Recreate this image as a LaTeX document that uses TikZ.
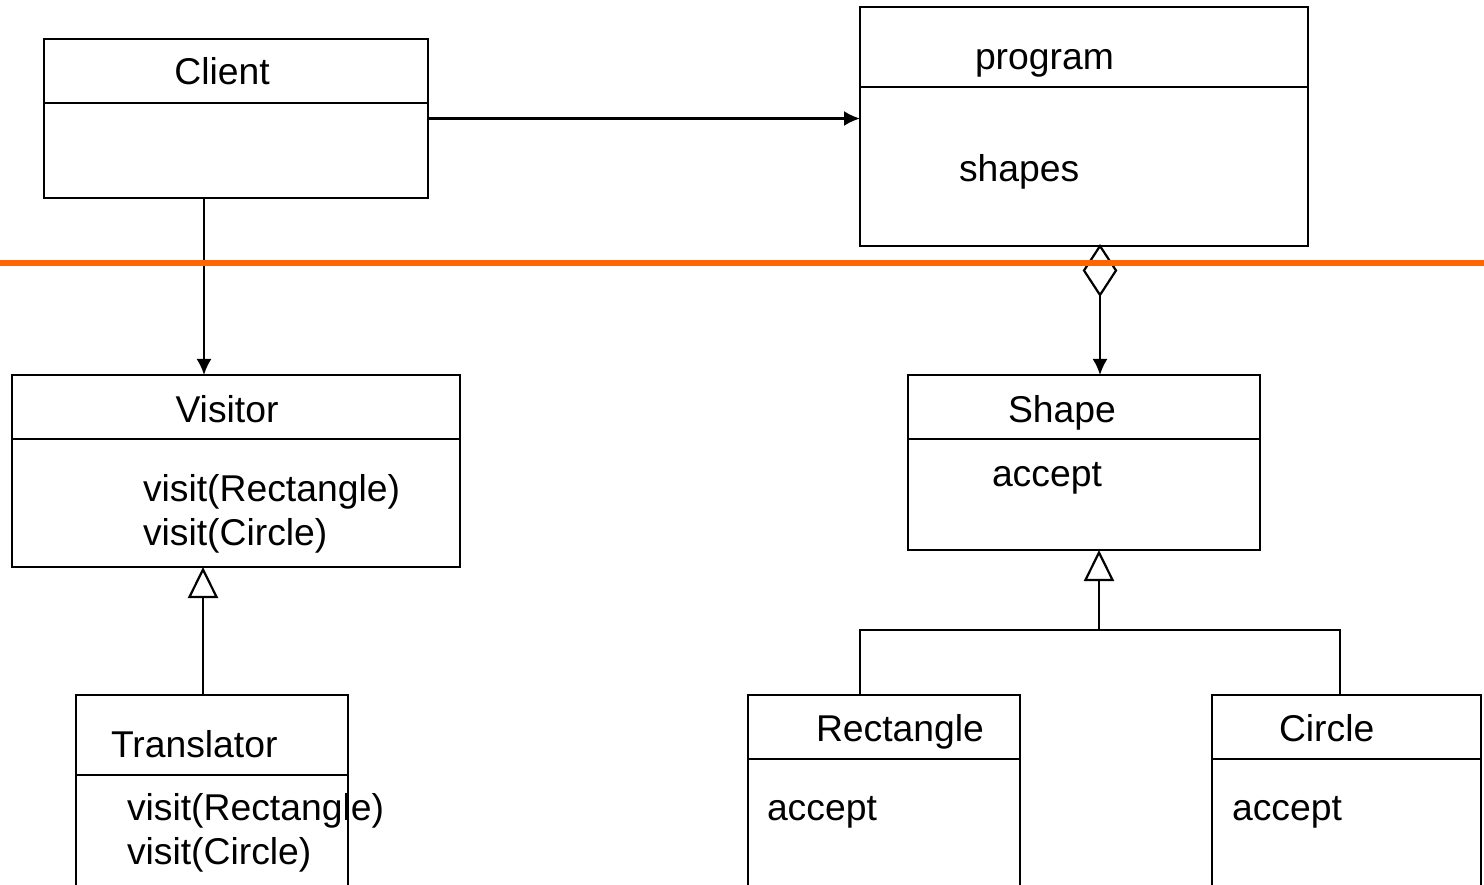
\documentclass[tikz,border=0pt]{standalone}
\usepackage{fontspec}
\setmainfont{Liberation Sans}
\usetikzlibrary{arrows.meta}
\definecolor{sepor}{HTML}{FF6600}
\begin{document}
\begin{tikzpicture}[x=1pt,y=-1pt,
  umlbox/.style={draw, line width=2.2pt, inner sep=0pt, outer sep=0pt, rectangle},
  lbl/.style={inner sep=0pt, outer sep=0pt, font=\fontsize{37.3}{44}\selectfont},
  conn/.style={line width=2.2pt},
  filledtip/.style={-{Latex[length=16pt,width=15pt]}},
  inherit/.style={-{Triangle[open,length=31pt,width=30pt,fill=white]}},
  divider/.style={line width=2.2pt}
]
\clip (0,0) rectangle (1484,885);
\fill[white] (0,0) rectangle (1484,885);

% boxes
\node[umlbox, minimum width=384pt, minimum height=159pt] (client) at (236,118.5) {};
\node[umlbox, minimum width=448pt, minimum height=239pt] (program) at (1084,126.5) {};
\node[umlbox, minimum width=448pt, minimum height=192pt] (visitor) at (236,471) {};
\node[umlbox, minimum width=352pt, minimum height=175pt] (shape) at (1084,462.5) {};
\node[umlbox, minimum width=272pt, minimum height=225pt] (translator) at (212,807.5) {};
\node[umlbox, minimum width=272pt, minimum height=225pt] (rectangle) at (884,807.5) {};
\node[umlbox, minimum width=269pt, minimum height=225pt] (circle) at (1346.5,807.5) {};

% dividers
\draw[divider] (client.west |- 0,103) -- (client.east |- 0,103);
\draw[divider] (program.west |- 0,87) -- (program.east |- 0,87);
\draw[divider] (visitor.west |- 0,439) -- (visitor.east |- 0,439);
\draw[divider] (shape.west |- 0,439) -- (shape.east |- 0,439);
\draw[divider] (translator.west |- 0,775) -- (translator.east |- 0,775);
\draw[divider] (rectangle.west |- 0,759) -- (rectangle.east |- 0,759);
\draw[divider] (circle.west |- 0,759) -- (circle.east |- 0,759);

% texts
\node[lbl, anchor=base] (client-t) at (222,85) {Client};
\node[lbl, anchor=base west] (program-t) at (975,70) {program};
\node[lbl, anchor=base west] (program-a) at (959,182) {shapes};
\node[lbl, anchor=base] (visitor-t) at (227,422) {Visitor};
\node[lbl, anchor=base west] (visitor-a) at (143,501) {visit(Rectangle)};
\node[lbl, anchor=base west] (visitor-b) at (143,545) {visit(Circle)};
\node[lbl, anchor=base west] (shape-t) at (1008,422) {Shape};
\node[lbl, anchor=base west] (shape-a) at (992,486) {accept};
\node[lbl, anchor=base west] (translator-t) at (111,757) {Translator};
\node[lbl, anchor=base west] (translator-a) at (127,820) {visit(Rectangle)};
\node[lbl, anchor=base west] (translator-b) at (127,864) {visit(Circle)};
\node[lbl, anchor=base west] (rectangle-t) at (816,741) {Rectangle};
\node[lbl, anchor=base west] (rectangle-a) at (767,820) {accept};
\node[lbl, anchor=base west] (circle-t) at (1279,741) {Circle};
\node[lbl, anchor=base west] (circle-a) at (1232,820) {accept};

% connectors
\draw[conn, filledtip] (client.east) -- (client.east -| program.west);
\draw[conn, filledtip] ([xshift=-32pt]client.south) -- ([xshift=-32pt]client.south |- visitor.north);

\coordinate (dtop) at ([xshift=16pt]program.south);
\draw[conn, fill=white] (dtop) -- ++(16,24.5) -- ++(-16,24.5) coordinate (dbot) -- ++(-16,-24.5) -- cycle;
\draw[conn, filledtip] (dbot) -- (dbot |- shape.north);

\draw[sepor, line width=6.5pt] (0,263) -- (1484,263);

\draw[conn, inherit] ([xshift=-9pt]translator.north) -- ([xshift=-9pt]translator.north |- visitor.south);

\draw[conn] ([xshift=-24pt]rectangle.north) -- ++(0,-65) coordinate (bl) -| ([xshift=-6.5pt]circle.north);
\draw[conn, inherit] ([xshift=15pt]shape.south |- bl) -- ([xshift=15pt]shape.south);
\end{tikzpicture}
\end{document}
